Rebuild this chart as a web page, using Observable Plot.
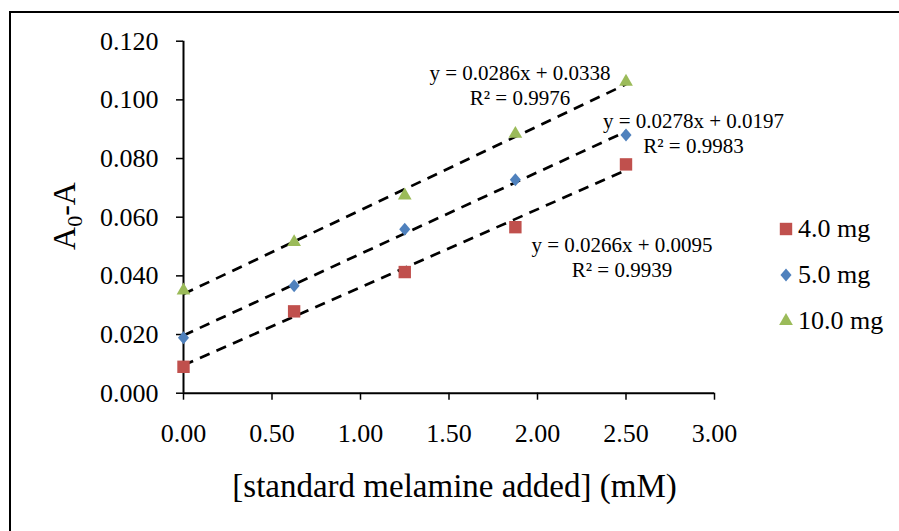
<!DOCTYPE html>
<html>
<head>
<meta charset="utf-8">
<script src="https://cdn.jsdelivr.net/npm/d3@7"></script>
<script src="https://cdn.jsdelivr.net/npm/@observablehq/plot@0.6"></script>
<style>
  html, body { margin: 0; padding: 0; background: #fff; width: 899px; height: 531px; overflow: hidden; }
  #wrap { position: relative; width: 899px; height: 531px; font-family: "Liberation Serif", "Times New Roman", serif; color: #000; }
  #frame { position: absolute; left: 9px; top: 11px; width: 1000px; height: 1000px; border: 2px solid #000; box-sizing: border-box; }
  #chart { position: absolute; left: 0; top: 0; }
  #legend { position: absolute; left: 778px; top: 206px; display: flex; flex-direction: column; }
  #legend .row { height: 46px; display: flex; align-items: center; font-size: 26px; line-height: 1; white-space: nowrap; }
  #legend svg { width: 16px; height: 16px; margin-right: 4px; }
</style>
</head>
<body>
<div id="wrap">
  <div id="frame"></div>
  <div id="chart"></div>
  <div id="legend"></div>
</div>
<script>
// ---- data ----
const seriesNames = ["4.0 mg", "5.0 mg", "10.0 mg"];
const xValues = [0, 0.625, 1.25, 1.875, 2.5];
const y4mg = [0.0090, 0.0279, 0.0413, 0.0566, 0.0780];
const y5mg = [0.0189, 0.0366, 0.0559, 0.0728, 0.0880];
const y10mg = [0.0350, 0.0515, 0.0674, 0.0884, 0.1062];
const slopes = [0.0266, 0.0278, 0.0286];
const intercepts = [0.0095, 0.0197, 0.0338];
const rSquared = ["0.9939", "0.9983", "0.9976"];
const xTicks = [0, 0.5, 1, 1.5, 2, 2.5, 3];
const yTicks = [0, 0.02, 0.04, 0.06, 0.08, 0.10, 0.12];
const xLabel = "[standard melamine added] (mM)";

// ---- styles ----
const colors = ["#C0504D", "#4F81BD", "#9BBB59"];
const customDiamond = {
  draw(ctx, size) {
    const a = Math.sqrt(size / 1.7), b = a * 0.85;
    ctx.moveTo(0, -a); ctx.lineTo(b, 0); ctx.lineTo(0, a); ctx.lineTo(-b, 0); ctx.closePath();
  }
};
const symbols = [d3.symbolSquare, customDiamond, d3.symbolTriangle];
const radii = [7.0, 4.8, 5.1];
const labelOffsets = [[-4, 86], [67.5, 0.6], [-106, 0.4]];

const ySeries = [y4mg, y5mg, y10mg];
const points = seriesNames.map((s, i) => xValues.map((x, j) => ({series: s, x, y: ySeries[i][j]})));
const x0 = xValues[0], x1 = xValues[xValues.length - 1];
const trends = seriesNames.map((s, i) => ({
  series: s, x1: x0, x2: x1,
  y1: slopes[i] * x0 + intercepts[i], y2: slopes[i] * x1 + intercepts[i],
  label: `y = ${slopes[i].toFixed(4)}x + ${intercepts[i].toFixed(4)}\nR² = ${rSquared[i]}`
}));

const marks = [
  Plot.axisY(yTicks, {tickSize: 7, tickPadding: 18, fontSize: 26, tickFormat: d3.format(".3f"), strokeWidth: 1.5, label: null}),
  Plot.axisX(xTicks, {tickSize: 7, tickPadding: 23, fontSize: 26, tickFormat: d3.format(".2f"), strokeWidth: 1.5, label: null}),
  Plot.ruleY([0], {stroke: "#000", strokeWidth: 2}),
  Plot.ruleX([0], {stroke: "#000", strokeWidth: 2}),
  Plot.link(trends, {x1: "x1", y1: "y1", x2: "x2", y2: "y2", stroke: "#000", strokeWidth: 2.7, strokeDasharray: "10.5,7.5"}),
  Plot.text([xLabel], {frameAnchor: "bottom", lineAnchor: "middle", dx: 5.5, dy: 93, fontSize: 33, fill: "#000"})
];
seriesNames.forEach((s, i) => {
  marks.push(Plot.dot(points[i], {x: "x", y: "y", symbol: symbols[i], r: radii[i], fill: colors[i], stroke: "none"}));
  marks.push(Plot.text([trends[i]], {x: "x2", y: "y2", text: "label", dx: labelOffsets[i][0], dy: labelOffsets[i][1], fontSize: 21, lineHeight: 1.19, fill: "#000"}));
});

const chart = Plot.plot({
  width: 899, height: 531,
  marginLeft: 183, marginRight: 185, marginTop: 40.7, marginBottom: 138.3,
  x: {domain: [0, 3]},
  y: {domain: [0, 0.12]},
  style: {fontFamily: '"Liberation Serif", "Times New Roman", serif', background: "transparent", color: "#000", overflow: "visible"},
  marks
});
document.getElementById("chart").appendChild(chart);

// y-axis title with subscript
const svg = d3.select(chart);
const yt = svg.append("text")
  .attr("transform", "translate(75,216) rotate(-90)")
  .attr("text-anchor", "middle")
  .attr("font-size", 32)
  .attr("fill", "#000");
yt.append("tspan").text("A");
yt.append("tspan").attr("font-size", 22).attr("dy", 7).text("0");
yt.append("tspan").attr("dy", -7).text("-A");

// legend
const legend = d3.select("#legend");
seriesNames.forEach((s, i) => {
  const row = legend.append("div").attr("class", "row");
  const sv = row.append("svg").attr("viewBox", "-8 -8 16 16");
  sv.append("path").attr("d", d3.symbol(symbols[i], Math.PI * radii[i] * radii[i])()).attr("fill", colors[i]);
  row.append("span").text(s);
});
</script>
</body>
</html>
